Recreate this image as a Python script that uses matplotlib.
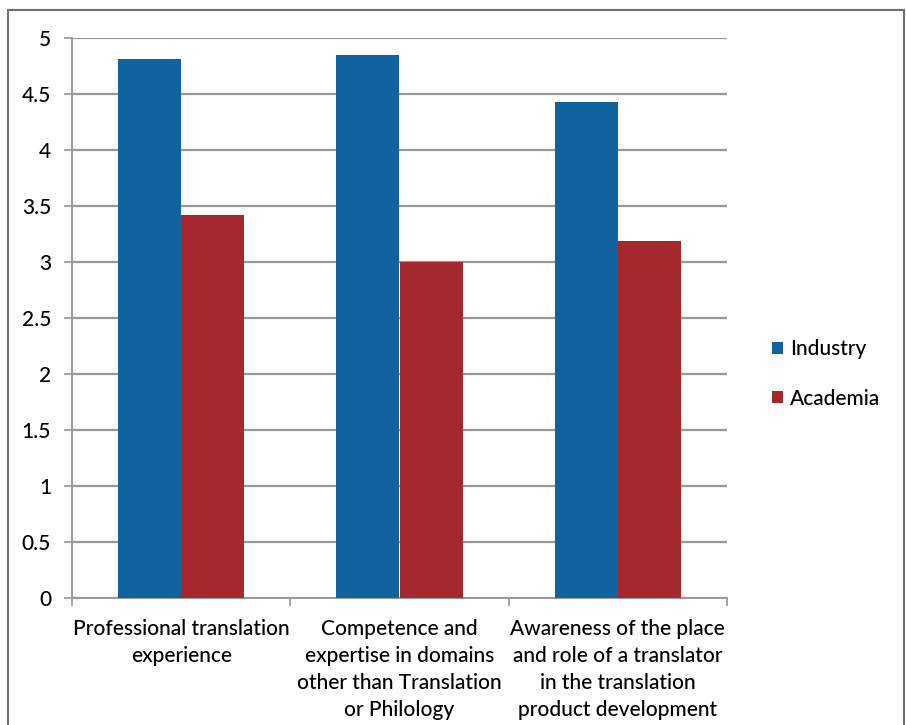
import numpy as np
import matplotlib.pyplot as plt
from matplotlib.patches import Rectangle

categories = [
    "Professional translation\nexperience",
    "Competence and\nexpertise in domains\nother than Translation\nor Philology",
    "Awareness of the place\nand role of a translator\nin the translation\nproduct development",
]
industry = [4.81, 4.85, 4.43]
academia = [3.42, 3.00, 3.19]
y_ticks = [0, 0.5, 1, 1.5, 2, 2.5, 3, 3.5, 4, 4.5, 5]
y_labels = ["0", "0.5", "1", "1.5", "2", "2.5", "3", "3.5", "4", "4.5", "5"]

BLUE = "#12629f"
RED = "#a5282e"
GRID = "#9a9794"

plt.rcParams['font.family'] = ['Lato', 'DejaVu Sans']

fig = plt.figure(figsize=(9.06, 7.25), dpi=100)
ax = fig.add_axes([72 / 906, 1 - 598 / 725, 655 / 906, 560 / 725])

x = np.arange(len(categories))
w = 0.29
ax.bar(x - w / 2, industry, w, color=BLUE, label="Industry", zorder=3)
ax.bar(x + w / 2, academia, w, color=RED, label="Academia", zorder=3)

ax.set_xlim(-0.5, 2.5)
ax.set_ylim(0, 5)
ax.set_yticks(y_ticks)
ax.set_yticklabels(y_labels, fontsize=15, fontweight='medium')
ax.yaxis.grid(True, color=GRID, linewidth=1.6, zorder=0)
ax.tick_params(axis='y', length=6, width=1.2, color=GRID, pad=9)

# category labels centred, tick marks on the boundaries
ax.set_xticks(x)
ax.set_xticklabels(categories, fontsize=15, fontweight='medium', linespacing=1.45)
ax.tick_params(axis='x', length=0, pad=15)
ax.set_xticks([-0.5, 0.5, 1.5, 2.5], minor=True)
ax.tick_params(axis='x', which='minor', length=6, width=1.2, color=GRID)

for side in ['top', 'right']:
    ax.spines[side].set_visible(False)
for side in ['left', 'bottom']:
    ax.spines[side].set_color(GRID)
    ax.spines[side].set_linewidth(1.4)

leg = ax.legend(loc='center left', bbox_to_anchor=(1.04, 0.40), frameon=False,
                fontsize=15, handlelength=0.55, handleheight=0.55,
                handletextpad=0.3, labelspacing=1.4)
for t in leg.get_texts():
    t.set_fontweight('medium')

# outer frame of the chart area
fig.patches.append(Rectangle((8 / 906, -0.01), 896 / 906, 1 - 10 / 725 + 0.01,
                             transform=fig.transFigure, fill=False,
                             edgecolor="#6e6e6e", linewidth=1.5))

fig.savefig("out.png", dpi=100)
